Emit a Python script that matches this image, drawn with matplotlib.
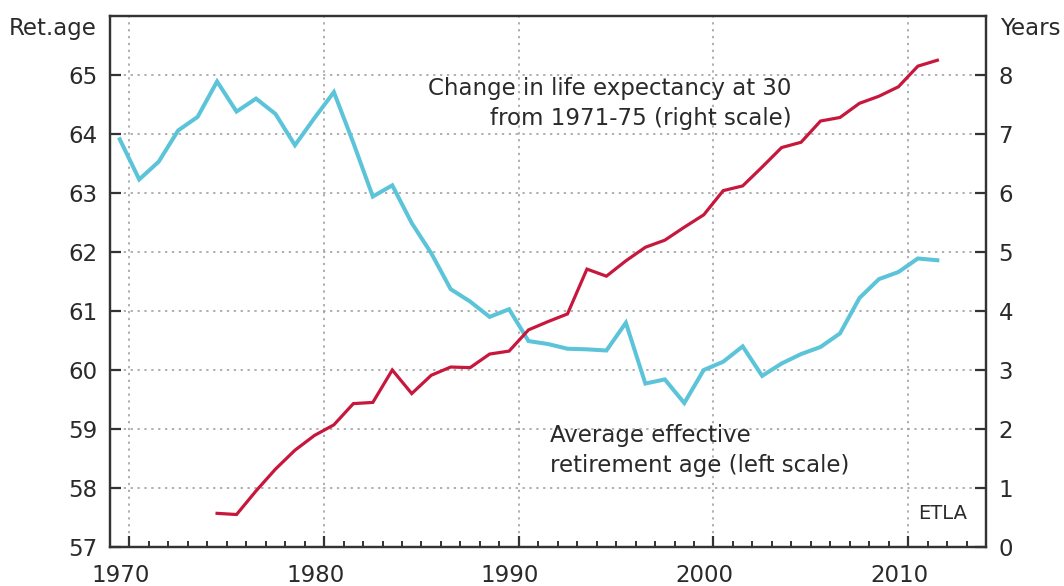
import numpy as np
import matplotlib
matplotlib.use("Agg")
import matplotlib.pyplot as plt
import matplotlib.transforms as mtransforms
from matplotlib.ticker import MultipleLocator

plt.rcParams['font.family'] = ['DejaVu Sans']

# data, yearly values (plotted at mid-year)
ret_years = np.arange(1969, 2012)
ret_age = [63.91, 63.23, 63.53, 64.06, 64.29, 64.89, 64.38, 64.60, 64.34, 63.81,
           64.27, 64.71, 63.85, 62.94, 63.13, 62.49, 61.98, 61.37, 61.16, 60.90,
           61.03, 60.49, 60.44, 60.36, 60.35, 60.33, 60.80, 59.77, 59.84, 59.44,
           60.00, 60.14, 60.40, 59.90, 60.11, 60.27, 60.39, 60.62, 61.22, 61.54,
           61.66, 61.89, 61.86]

life_years = np.arange(1974, 2012)
life_exp = [0.57, 0.55, 0.95, 1.32, 1.64, 1.89, 2.07, 2.43, 2.45, 3.00,
            2.60, 2.91, 3.05, 3.04, 3.27, 3.32, 3.68, 3.82, 3.95, 4.71,
            4.59, 4.85, 5.08, 5.20, 5.42, 5.63, 6.04, 6.12, 6.44, 6.77,
            6.86, 7.22, 7.28, 7.52, 7.64, 7.80, 8.15, 8.25]

blue = '#5cc4d8'
red = '#c8173c'
dark = '#2a2a2a'
fs = 16.5

fig = plt.figure(figsize=(10.64, 5.86), dpi=100)
ax = fig.add_axes([0.1034, 0.0666, 0.8233, 0.9061])
ax2 = ax.twinx()

ax.plot(ret_years + 0.5, ret_age, color=blue, lw=2.9, solid_joinstyle='miter', zorder=3)
ax2.plot(life_years + 0.5, life_exp, color=red, lw=2.3, solid_joinstyle='miter', zorder=3)

ax.set_xlim(1969, 2014)
ax.set_ylim(57, 66)
ax2.set_ylim(0, 9)

ax.xaxis.set_major_locator(MultipleLocator(10))
ax.xaxis.set_minor_locator(MultipleLocator(1))
ax.set_yticks(range(57, 66))
ax2.set_yticks(range(0, 9))

ax.grid(True, which='major', linestyle=(0, (1.5, 3)), color='#9a9a9a', lw=1.1)

for a in (ax, ax2):
    for s in a.spines.values():
        s.set_color('#333333')
        s.set_linewidth(1.6)
    a.tick_params(which='major', direction='in', length=8, width=1.6,
                  color='#333333', labelsize=fs, labelcolor=dark)
    a.tick_params(which='minor', direction='in', length=4.5, width=1.4, color='#333333')
ax.tick_params(axis='y', pad=9)
ax.tick_params(axis='x', pad=12.5)
ax2.tick_params(axis='y', pad=9)

# year labels sit a little left of their ticks in the original
shift = mtransforms.ScaledTranslation(-9 / 100, 0, fig.dpi_scale_trans)
for lab in ax.get_xticklabels():
    lab.set_transform(lab.get_transform() + shift)

fig.text(0.091, 0.952, 'Ret.age', ha='right', va='center', fontsize=fs, color=dark)
fig.text(0.94, 0.952, 'Years', ha='left', va='center', fontsize=fs, color=dark)

ax.text(2004.0, 64.15, 'Change in life expectancy at 30\nfrom 1971-75 (right scale)',
        ha='right', va='baseline', multialignment='right', fontsize=fs,
        color=dark, linespacing=1.4)
ax.text(1991.6, 58.27, 'Average effective\nretirement age (left scale)',
        ha='left', va='baseline', fontsize=fs, color=dark, linespacing=1.4)
ax.text(2011.78, 57.47, 'ETLA', ha='center', va='baseline', fontsize=14, color=dark)

fig.savefig('out.png', dpi=100)
